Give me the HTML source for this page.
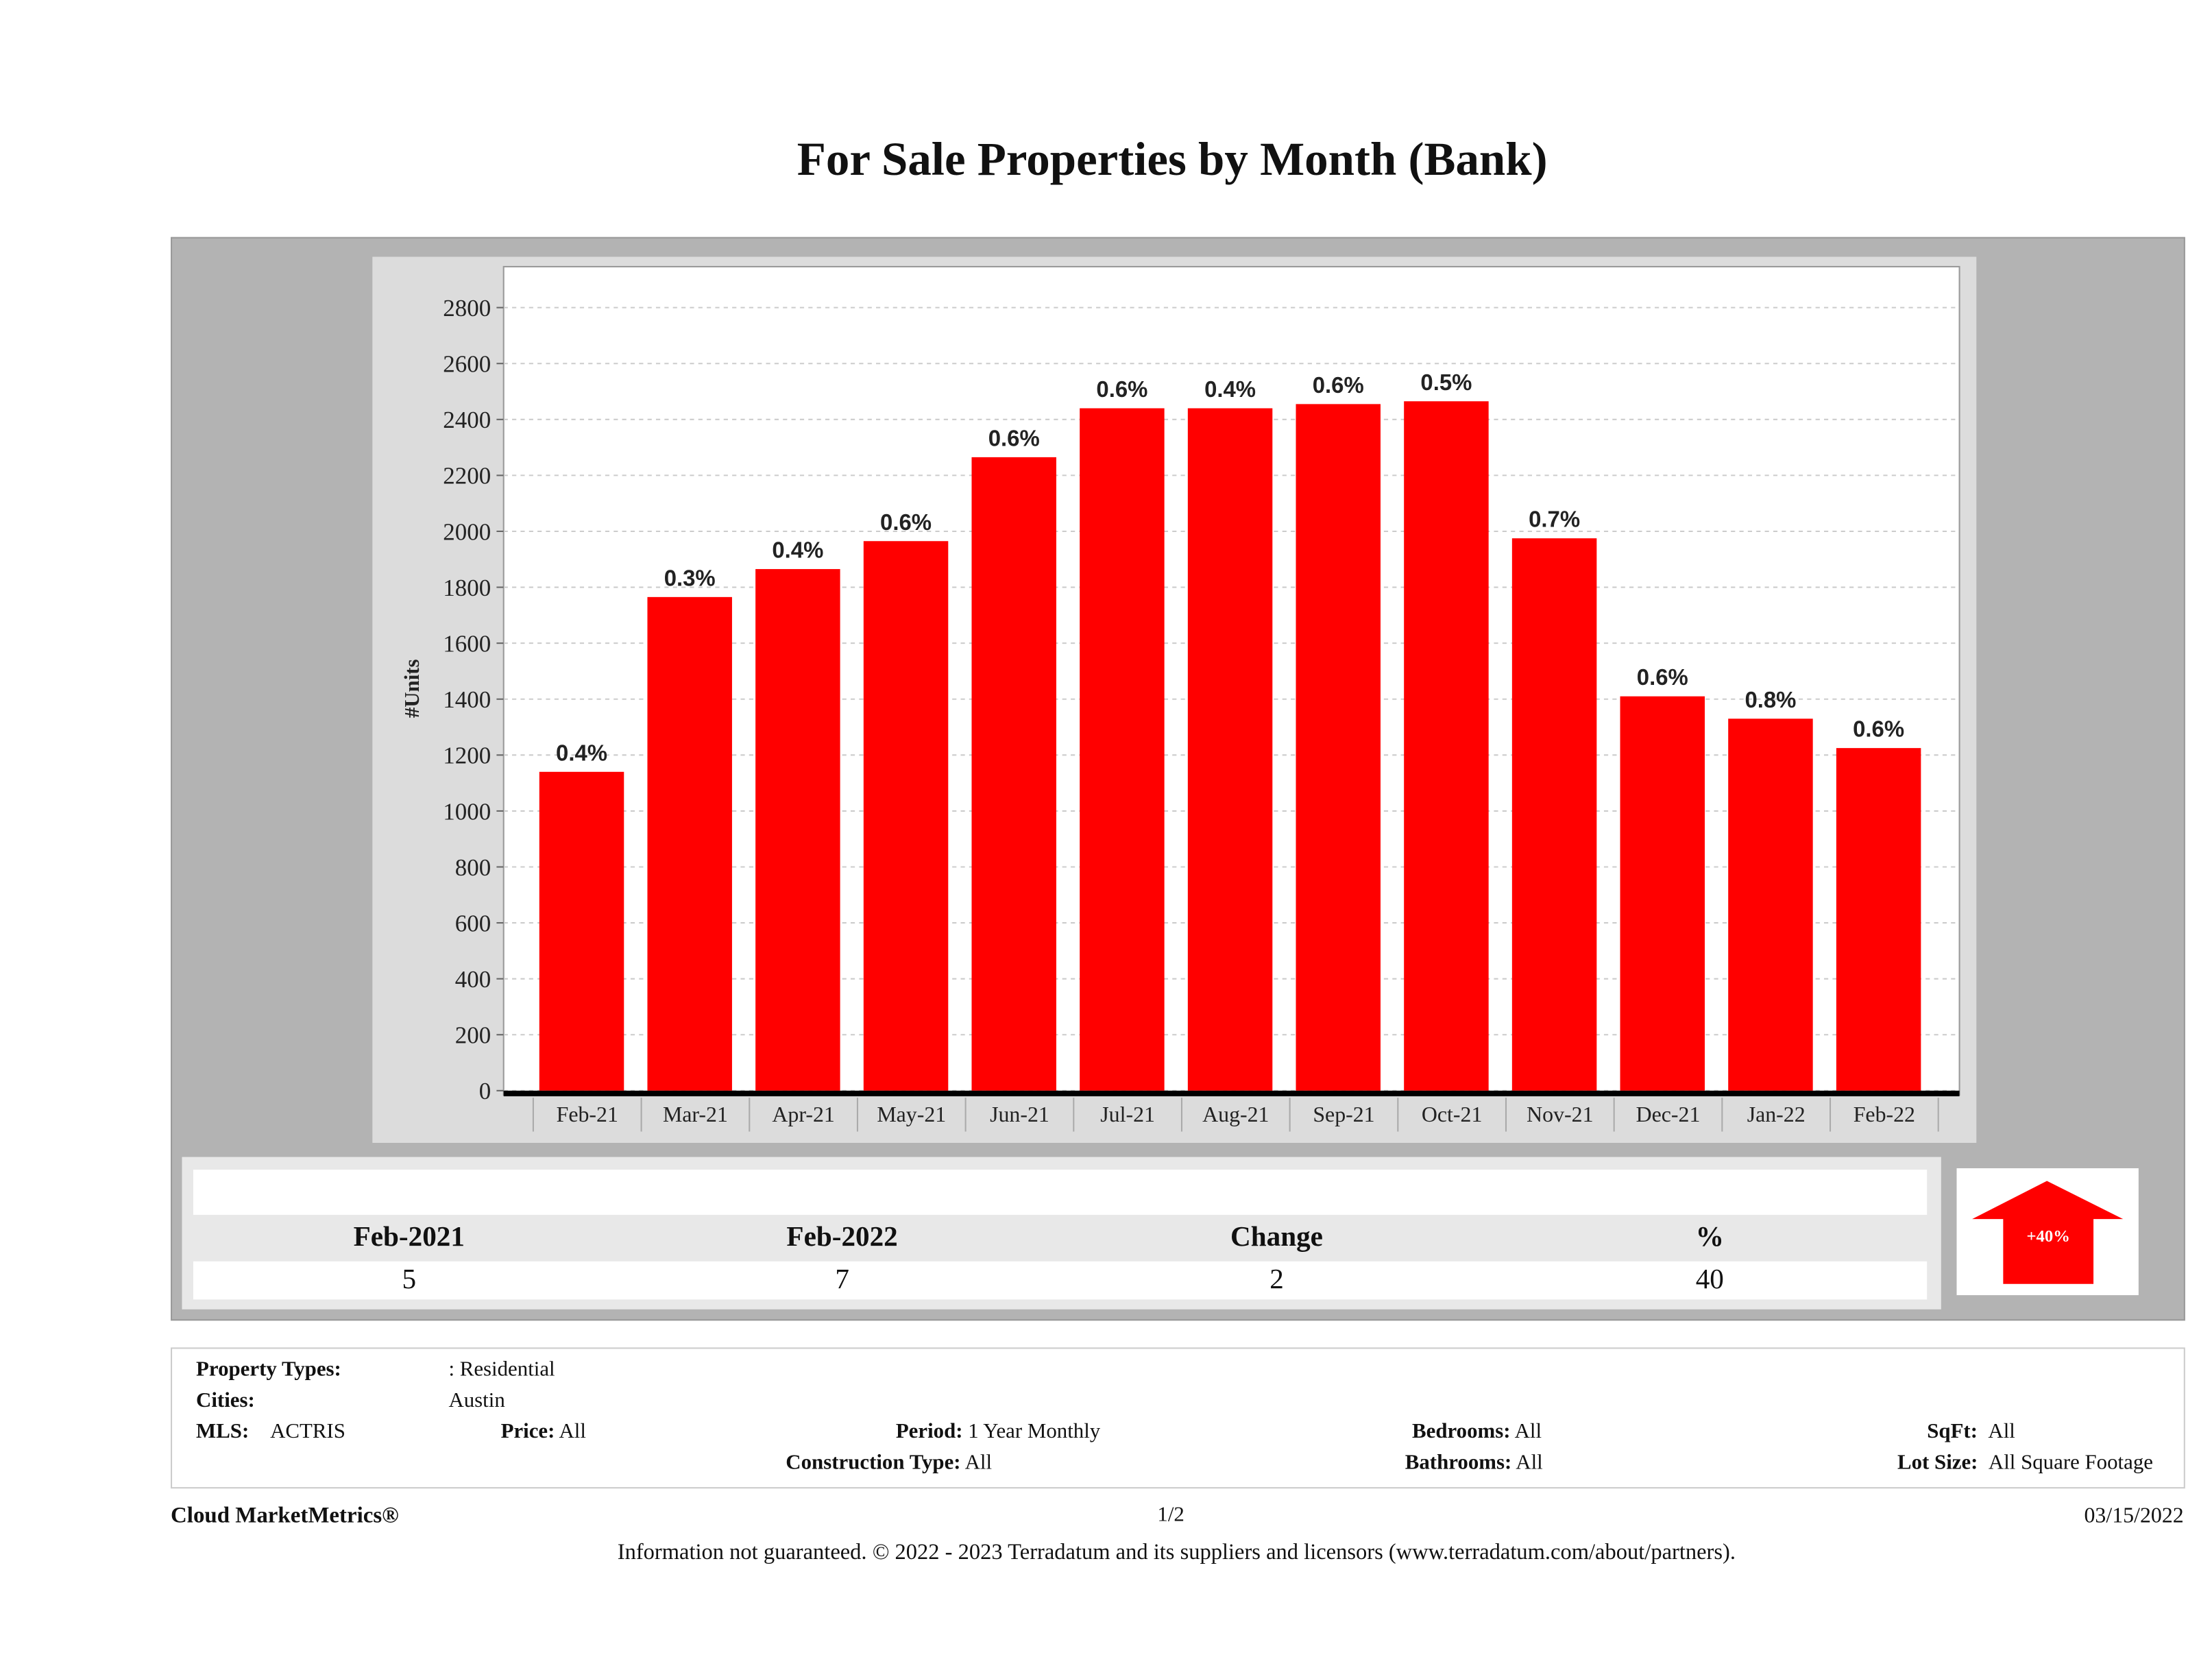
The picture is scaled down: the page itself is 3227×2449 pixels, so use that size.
<!DOCTYPE html>
<html><head><meta charset="utf-8">
<style>
html,body{margin:0;padding:0;background:#fff;}
body{width:3227px;height:2448px;overflow:hidden;}
#root{position:absolute;left:0;top:0;width:1568px;height:1190px;transform:scale(2.058);transform-origin:0 0;font-family:"Liberation Serif",serif;color:#111;}
.abs{position:absolute;}
.lbl{font-size:15px;}
.b{font-weight:bold;}
</style></head>
<body>
<div id="root">
<div class="abs b" style="left:0;width:1662px;top:95px;text-align:center;font-size:33.5px;">For Sale Properties by Month (Bank)</div>
<div class="abs" style="left:121px;top:168px;width:1426px;height:766px;background:#b3b3b3;border:1px solid #999;"></div>
<svg class="abs" style="left:0;top:0" width="1568" height="1190">
<rect x="264" y="182" width="1137" height="628" fill="#dcdcdc"/>
<rect x="357" y="189" width="1032" height="587" fill="#fff" stroke="#999"/>
<g id="grid"></g><g id="bars"></g><g id="axes"></g>
</svg>
<div class="abs" style="left:129px;top:820px;width:1247px;height:108px;background:#e8e8e8;"></div>
<div class="abs" style="left:137px;top:829px;width:1229px;height:32px;background:#fff;"></div>
<div class="abs" style="left:137px;top:894px;width:1229px;height:27px;background:#fff;"></div>
<div class="abs b" style="left:190px;width:200px;top:866px;text-align:center;font-size:20px;">Feb-2021</div>
<div class="abs b" style="left:497px;width:200px;top:866px;text-align:center;font-size:20px;">Feb-2022</div>
<div class="abs b" style="left:805px;width:200px;top:866px;text-align:center;font-size:20px;">Change</div>
<div class="abs b" style="left:1112px;width:200px;top:866px;text-align:center;font-size:20px;">%</div>
<div class="abs" style="left:190px;width:200px;top:896px;text-align:center;font-size:20px;">5</div>
<div class="abs" style="left:497px;width:200px;top:896px;text-align:center;font-size:20px;">7</div>
<div class="abs" style="left:805px;width:200px;top:896px;text-align:center;font-size:20px;">2</div>
<div class="abs" style="left:1112px;width:200px;top:896px;text-align:center;font-size:20px;">40</div>
<svg class="abs" style="left:1387px;top:828px" width="129" height="90">
<rect width="129" height="90" fill="#fff"/>
<polygon points="64,9 11,36 33,36 33,82 97,82 97,36 118,36" fill="#f00"/>
<text x="65" y="52" text-anchor="middle" fill="#fff" font-size="12" font-weight="bold" font-family="Liberation Serif,serif">+40%</text>
</svg>
<div class="abs" style="left:121px;top:955px;width:1426px;height:98px;border:1px solid #ccc;"></div>
<div class="abs lbl" style="left:139px;top:963px;"><b>Property Types:</b><span style="position:absolute;left:179px;white-space:nowrap">: Residential</span></div>
<div class="abs lbl" style="left:139px;top:985px;"><b>Cities:</b><span style="position:absolute;left:179px;">Austin</span></div>
<div class="abs lbl" style="left:139px;top:1007px;white-space:nowrap"><b>MLS:</b> &nbsp;&nbsp;&nbsp;ACTRIS</div>
<div class="abs lbl" style="left:355px;top:1007px;"><b>Price:</b> All</div>
<div class="abs lbl" style="left:635px;top:1007px;white-space:nowrap"><b>Period:</b> 1 Year Monthly</div>
<div class="abs lbl" style="left:557px;top:1029px;white-space:nowrap"><b>Construction Type:</b> All</div>
<div class="abs lbl" style="left:1001px;top:1007px;"><b>Bedrooms:</b> All</div>
<div class="abs lbl" style="left:996px;top:1029px;"><b>Bathrooms:</b> All</div>
<div class="abs lbl" style="left:1366px;top:1007px;"><b>SqFt:</b> &nbsp;All</div>
<div class="abs lbl" style="left:1345px;top:1029px;white-space:nowrap"><b>Lot Size:</b> &nbsp;All Square Footage</div>
<div class="abs b" style="left:121px;top:1066px;font-size:16px;">Cloud MarketMetrics®</div>
<div class="abs" style="left:780px;width:100px;text-align:center;top:1066px;font-size:15px;">1/2</div>
<div class="abs" style="left:1400px;width:148px;text-align:right;top:1066px;font-size:15.5px;">03/15/2022</div>
<div class="abs" style="left:0;width:1668px;text-align:center;top:1092px;font-size:15.8px;white-space:nowrap;">Information not guaranteed. © 2022 - 2023 Terradatum and its suppliers and licensors (www.terradatum.com/about/partners).</div>
</div>
<script>
const categories=["Feb-21","Mar-21","Apr-21","May-21","Jun-21","Jul-21","Aug-21","Sep-21","Oct-21","Nov-21","Dec-21","Jan-22","Feb-22"];
const units=[1140,1765,1865,1965,2265,2440,2440,2455,2465,1975,1410,1330,1225];
const pctLabels=["0.4%","0.3%","0.4%","0.6%","0.6%","0.6%","0.4%","0.6%","0.5%","0.7%","0.6%","0.8%","0.6%"];
const yTicks=[0,200,400,600,800,1000,1200,1400,1600,1800,2000,2200,2400,2600,2800];
const NS="http://www.w3.org/2000/svg";
const y0=773,y1=218,vmax=2800;
function yScale(v){return y0-(v/vmax)*(y0-y1);}
const bandStart=378,bandW=(1374-378)/categories.length;
function xBand(i){return bandStart+i*bandW;}
function mk(tag,attrs,parent){const e=document.createElementNS(NS,tag);for(const k in attrs)e.setAttribute(k,attrs[k]);parent.appendChild(e);return e;}
const grid=document.getElementById('grid'),bars=document.getElementById('bars'),axes=document.getElementById('axes');
yTicks.forEach(t=>{
 const y=yScale(t);
 const gl=mk('line',{x1:357,x2:1389,y1:y,y2:y,stroke:'#ccc','stroke-dasharray':'3,3'},grid);
 
 
 mk('line',{x1:352,x2:357,y1:y,y2:y,stroke:'#666'},axes);
 const tx=mk('text',{x:348,y:y+6,'text-anchor':'end','font-size':17,'font-family':'Liberation Serif,serif',fill:'#222'},axes);
 tx.textContent=t;
 
 
});
categories.forEach((c,i)=>{
 const x=xBand(i),w=60,bx=x+(bandW-w)/2-4,y=yScale(units[i]);
 const r=mk('rect',{x:bx,y:y,width:w,height:y0-y,fill:'#f00'},bars);
 
 
 const lt=mk('text',{x:bx+w/2,y:y-8,'text-anchor':'middle','font-size':16,'font-weight':'bold','font-family':'Liberation Sans,sans-serif',fill:'#222'},bars);
 lt.textContent=pctLabels[i];
 
 
 const xt=mk('text',{x:x+bandW/2,y:795,'text-anchor':'middle','font-size':15.5,'font-family':'Liberation Serif,serif',fill:'#222'},axes);
 xt.textContent=c;
 
 
 mk('line',{x1:x,x2:x,y1:778,y2:802,stroke:'#aaa'},axes);
});
mk('line',{x1:xBand(categories.length),x2:xBand(categories.length),y1:778,y2:802,stroke:'#aaa'},axes);
const xa=mk('rect',{x:357,y:773,width:1032,height:4,fill:'#000'},axes);


const yt=mk('text',{x:0,y:0,transform:'translate(297,488) rotate(-90)','text-anchor':'middle','font-size':15,'font-weight':'bold','font-family':'Liberation Serif,serif',fill:'#222'},axes);
yt.textContent='#Units';


</script>
</body></html>
